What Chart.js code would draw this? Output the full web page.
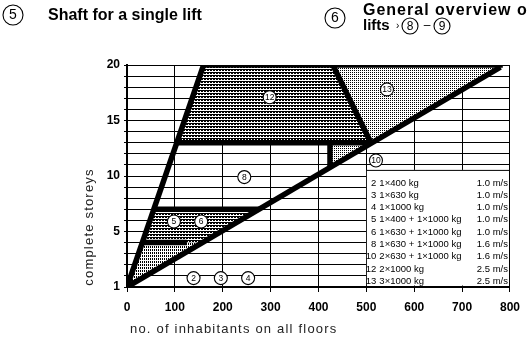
<!DOCTYPE html>
<html>
<head>
<meta charset="utf-8">
<script src="https://cdn.jsdelivr.net/npm/chart.js@4.4.1/dist/chart.umd.min.js"></script>
<style>
  html, body { margin: 0; padding: 0; background: #fff; }
</style>
</head>
<body>
<canvas id="myChart" width="528" height="338"></canvas>
<script>
// axes: inhabitants (x) and storeys (y); the bottom line is storey "1"
var xTicks = [0, 100, 200, 300, 400, 500, 600, 700, 800];
var yTickValues = [0, 5, 10, 15, 20];
var yTickLabels = ['1', '5', '10', '15', '20'];

// zone outlines as [inhabitants, storeys]
var zone12 = [[104, 13], [160, 20], [430, 20], [510, 12.95]];
var zone13 = [[430, 20], [782, 20], [510, 12.95]];
var zone10 = [[424, 12.95], [424, 10.76], [510, 12.95]];
var zone56 = [[32, 4], [56, 7], [276, 7], [158, 4]];
var zone234 = [[0, 0], [32, 4], [158, 4]];

// heavy boundary lines
var diagonal = [[0, 0], [780, 19.8]];
var steep = [[0, 0], [160, 20]];
var top20 = [[160, 20], [785, 20]];
var floor13 = [[104, 13], [510, 13]];
var split1213 = [[430, 20], [510, 12.95]];
var wall10 = [[424, 13], [424, 10.76]];
var top7 = [[56, 7], [276, 7]];
var mid4 = [[32, 4], [125, 4]];

// circled zone numbers [no, inhabitants, storeys]
var zoneTags = [
  ['2', 139, 0.8], ['3', 196, 0.8], ['4', 253, 0.8],
  ['5', 98, 5.9], ['6', 155, 5.9], ['8', 245, 9.9],
  ['10', 520, 11.4], ['12', 298, 17.1], ['13', 543, 17.8]
];

// lift table
var liftNo = ['2', '3', '4', '5', '6', '8', '10', '12', '13'];
var liftLoad = ['1×400 kg', '1×630 kg', '1×1000 kg', '1×400 + 1×1000 kg', '1×630 + 1×1000 kg',
  '1×630 + 1×1000 kg', '2×630 + 1×1000 kg', '2×1000 kg', '3×1000 kg'];
var liftSpeed = ['1.0 m/s', '1.0 m/s', '1.0 m/s', '1.0 m/s', '1.0 m/s', '1.6 m/s', '1.6 m/s', '2.5 m/s', '2.5 m/s'];

var ctx = document.getElementById('myChart').getContext('2d');

// small bitmap tiles used as screen tones
function tone(w, h, cells, color) {
  var tile = document.createElement('canvas');
  tile.width = w; tile.height = h;
  var t = tile.getContext('2d');
  t.fillStyle = '#fff';
  t.fillRect(0, 0, w, h);
  t.fillStyle = color;
  cells.forEach(function (c) { t.fillRect(c[0], c[1], 1, 1); });
  return ctx.createPattern(tile, 'repeat');
}

var heavyDots = tone(3, 3, [[0, 0], [1, 0], [2, 0], [0, 1], [1, 1]], '#000');
var fineDots = tone(2, 2, [[0, 0]], '#000');
var colDots = tone(2, 3, [[0, 0], [0, 1]], '#000');

function pts(arr) {
  return arr.map(function (p) { return { x: p[0], y: p[1] }; });
}
function zone(arr, pattern) {
  return { data: pts(arr), fill: 'shape', backgroundColor: pattern,
    borderColor: 'rgba(0,0,0,0)', borderWidth: 0, pointRadius: 0, order: 2 };
}
function rule(arr) {
  return { data: pts(arr), fill: false, borderColor: '#000', borderWidth: 5.5,
    pointRadius: 0, order: 1 };
}

function ring(c, x, y, r, txt, size) {
  c.beginPath();
  c.arc(x, y, r, 0, Math.PI * 2);
  c.fillStyle = '#fff';
  c.fill();
  c.lineWidth = 1.1;
  c.strokeStyle = '#000';
  c.stroke();
  c.fillStyle = '#000';
  c.font = size + 'px Arial';
  c.textAlign = 'center';
  c.textBaseline = 'middle';
  c.fillText(txt, x, y + 0.5);
}

var sheetText = {
  id: 'sheetText',
  afterDraw: function (chart) {
    var c = chart.ctx, xs = chart.scales.x, ys = chart.scales.y, area = chart.chartArea;
    c.save();

    // lift table in the lower right
    var left = xs.getPixelForValue(500), top = ys.getPixelForValue(10.55);
    c.fillStyle = '#fff';
    c.fillRect(left + 0.5, top, area.right - left - 1.5, area.bottom - top - 1.5);
    c.strokeStyle = '#000';
    c.lineWidth = 1;
    c.beginPath();
    c.moveTo(left, top + 0.5);
    c.lineTo(area.right, top + 0.5);
    c.stroke();
    c.font = '9.5px Arial';
    c.textBaseline = 'middle';
    c.fillStyle = '#000';
    for (var i = 0; i < liftNo.length; i++) {
      var ry = top + 13 + i * 12.3;
      c.textAlign = 'right';
      c.fillText(liftNo[i], left + 10, ry);
      c.textAlign = 'left';
      c.fillText(liftLoad[i], left + 13, ry);
      c.textAlign = 'right';
      c.fillText(liftSpeed[i], area.right - 2, ry);
    }

    zoneTags.forEach(function (t) {
      ring(c, xs.getPixelForValue(t[1]), ys.getPixelForValue(t[2]), 6.5, t[0], 8.5);
    });

    // headings
    ring(c, 13, 15, 10, '5', 14);
    ring(c, 335, 18, 10, '6', 14);
    c.fillStyle = '#000';
    c.textAlign = 'left';
    c.textBaseline = 'middle';
    c.font = 'bold 16px Arial';
    c.fillText('Shaft for a single lift', 48, 16);
    c.letterSpacing = '1px';
    c.fillText('General overview of', 363, 11);
    c.letterSpacing = '0px';
    c.font = 'bold 15px Arial';
    c.fillText('lifts', 363, 26);
    c.font = '10px Arial';
    c.fillText('›', 396, 26);
    ring(c, 410, 26, 8, '8', 12);
    c.fillStyle = '#000';
    c.textAlign = 'center';
    c.font = '12px Arial';
    c.fillText('–', 427, 26);
    ring(c, 442, 26, 8, '9', 12);

    // axis titles
    c.fillStyle = '#222';
    c.font = '13px Arial';
    c.letterSpacing = '1.2px';
    c.textAlign = 'left';
    c.fillText('no. of inhabitants on all floors', 130, 329);
    c.translate(89, 227);
    c.rotate(-Math.PI / 2);
    c.textAlign = 'center';
    c.fillText('complete storeys', 0, 0);
    c.restore();
  }
};

var myChart = new Chart(ctx, {
  type: 'line',
  data: {
    datasets: [
      zone(zone12, heavyDots),
      zone(zone13, fineDots),
      zone(zone10, fineDots),
      zone(zone56, heavyDots),
      zone(zone234, colDots),
      rule(diagonal), rule(steep), rule(top20), rule(floor13),
      rule(split1213), rule(wall10), rule(top7), rule(mid4)
    ]
  },
  options: {
    responsive: false,
    animation: false,
    layout: { padding: { left: 0, right: 9, top: 65, bottom: 0 } },
    plugins: { legend: { display: false }, tooltip: { enabled: false } },
    scales: {
      x: {
        type: 'linear', min: 0, max: 800,
        afterFit: function (s) { s.height = 51; },
        afterBuildTicks: function (s) { s.ticks = xTicks.map(function (v) { return { value: v }; }); },
        grid: { color: '#000', lineWidth: 1, tickLength: 5 },
        border: { color: '#000', width: 2 },
        ticks: { color: '#000', padding: 8, maxRotation: 0, font: { family: 'Arial', size: 12, weight: 'bold' } }
      },
      y: {
        type: 'linear', min: 0, max: 20,
        afterFit: function (s) { s.width = 127; },
        afterBuildTicks: function (s) {
          var t = [];
          for (var v = 0; v <= 20; v++) t.push({ value: v });
          s.ticks = t;
        },
        grid: { color: '#000', lineWidth: 1, tickLength: 3 },
        border: { color: '#000', width: 2 },
        ticks: {
          color: '#000', padding: 4, autoSkip: false,
          font: { family: 'Arial', size: 12, weight: 'bold' },
          callback: function (v) {
            var k = yTickValues.indexOf(v);
            return k < 0 ? '' : yTickLabels[k];
          }
        }
      }
    }
  },
  plugins: [sheetText]
});
</script>
</body>
</html>
